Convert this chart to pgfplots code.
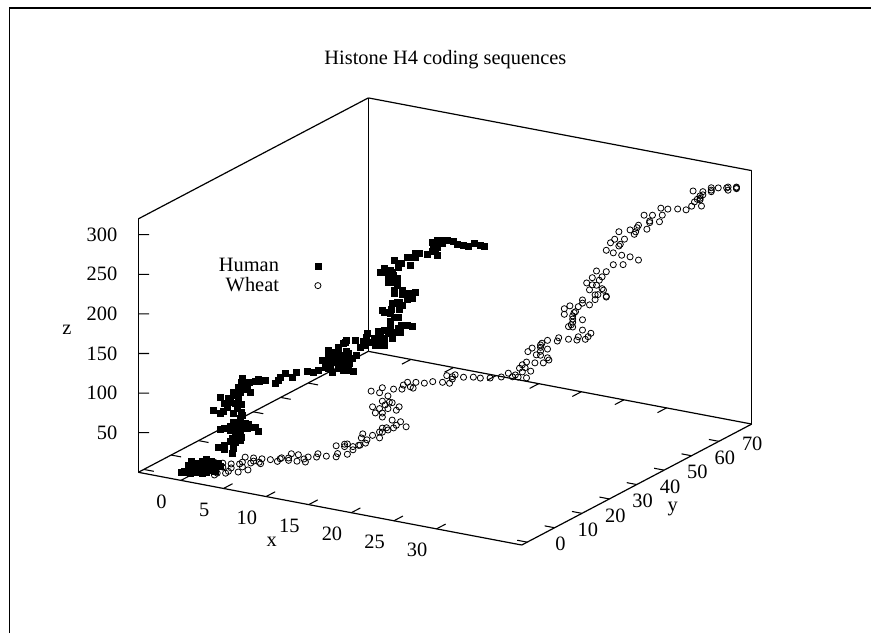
\documentclass[border=0pt]{standalone}
\usepackage{fontspec}
\setmainfont{Liberation Serif}
\usepackage{pgfplots}
\pgfplotsset{compat=1.18}
\begin{document}
\begin{tikzpicture}[x=1pt,y=1pt]
\useasboundingbox (0,0) rectangle (653.25,474.75);
\draw[line width=1.2pt,black] (7,0) -- (7,468.75) -- (653.25,468.75);
\begin{axis}[
  anchor=origin, at={(139.8pt,116.625pt)},
  x={(6.39pt,-1.212pt)}, y={(2.0535pt,1.08pt)}, z={(0pt,0.594pt)},
  xmin=-5,xmax=40,ymin=-2,ymax=82,zmin=0,zmax=320,
  xtick={0,5,...,30}, ytick={0,10,...,70}, ztick={50,100,...,300},
  font=\fontsize{15.3}{18}\selectfont,
  /pgf/number format/assume math mode=true,
  scaled ticks=false,
  axis line style={line width=0.9pt},
  tick style={draw=none},
  xticklabel style={anchor=center,xshift=-14.5pt,yshift=-15.8pt},
  yticklabel style={anchor=center,xshift=25pt,yshift=-1.5pt},
  zticklabel style={anchor=east,xshift=-12.3pt},
  clip=false,
  unbounded coords=jump,
  legend plot pos=right,
  legend cell align=right,
  legend image code/.code={\path (-27pt,0pt) (0pt,0pt); \draw[#1] plot coordinates {(0pt,0pt)};},
  legend style={draw=none,fill=none,at={(axis cs:9.65,0,274.2)},anchor=center,font=\fontsize{15.3}{15.5}\selectfont,row sep=-1pt},
]
% tick marks on the two x edges, the two y edges and the z edge of the box
\addplot3[forget plot,black,line width=0.8pt] coordinates {
(0,-2,0) (0,1.3,0) (nan,nan,nan) (5,-2,0) (5,1.3,0) (nan,nan,nan)
(10,-2,0) (10,1.3,0) (nan,nan,nan) (15,-2,0) (15,1.3,0) (nan,nan,nan)
(20,-2,0) (20,1.3,0) (nan,nan,nan) (25,-2,0) (25,1.3,0) (nan,nan,nan)
(30,-2,0) (30,1.3,0) (nan,nan,nan)
(0,82,0) (0,78.7,0) (nan,nan,nan) (5,82,0) (5,78.7,0) (nan,nan,nan)
(10,82,0) (10,78.7,0) (nan,nan,nan) (15,82,0) (15,78.7,0) (nan,nan,nan)
(20,82,0) (20,78.7,0) (nan,nan,nan) (25,82,0) (25,78.7,0) (nan,nan,nan)
(30,82,0) (30,78.7,0) (nan,nan,nan)
(40,0,0) (38.83,0,0) (nan,nan,nan) (40,10,0) (38.83,10,0) (nan,nan,nan)
(40,20,0) (38.83,20,0) (nan,nan,nan) (40,30,0) (38.83,30,0) (nan,nan,nan)
(40,40,0) (38.83,40,0) (nan,nan,nan) (40,50,0) (38.83,50,0) (nan,nan,nan)
(40,60,0) (38.83,60,0) (nan,nan,nan) (40,70,0) (38.83,70,0) (nan,nan,nan)
(-5,0,0) (-3.83,0,0) (nan,nan,nan) (-5,10,0) (-3.83,10,0) (nan,nan,nan)
(-5,20,0) (-3.83,20,0) (nan,nan,nan) (-5,30,0) (-3.83,30,0) (nan,nan,nan)
(-5,40,0) (-3.83,40,0) (nan,nan,nan) (-5,50,0) (-3.83,50,0) (nan,nan,nan)
(-5,60,0) (-3.83,60,0) (nan,nan,nan) (-5,70,0) (-3.83,70,0) (nan,nan,nan)
(-5,-2,50) (-4.077,-0.964,50) (nan,nan,nan) (-5,-2,100) (-4.077,-0.964,100) (nan,nan,nan)
(-5,-2,150) (-4.077,-0.964,150) (nan,nan,nan) (-5,-2,200) (-4.077,-0.964,200) (nan,nan,nan)
(-5,-2,250) (-4.077,-0.964,250) (nan,nan,nan) (-5,-2,300) (-4.077,-0.964,300)
};
\addplot3[only marks,mark=square*,mark size=2.25pt,black] table {
x y z
-0.5 -0.5 7
-0.2 -0.2 8
0.2 0.2 7
0.5 0.5 10
0.3 0.3 6
0.8 0.8 7
1.1 1.1 8
1.4 1.4 6
1.8 1.8 7
2.2 2.2 10
1.7 1.7 12
1.2 1.2 12
0.7 0.7 13
0.2 0.2 15
0.4 0.4 21
1.4 1.4 21
1.8 1.8 23
2.2 2.2 21
2.4 2.4 19
2.8 2.8 18
3.0 3.0 15
2.6 2.6 13
2.3 2.3 15
1.9 1.9 16
1.6 1.6 18
1.1 1.1 16
0.8 0.8 18
2.0 2.0 11
2.6 2.6 9
2.8 2.8 39
3.4 3.4 36
4.1 4.1 32
4.2 4.2 38
4.3 4.3 45
4.6 4.6 48
3.9 3.9 46
4.8 4.8 57
4.9 4.9 52
5.2 5.2 64
4.3 4.3 57
4.1 4.1 51
3.0 3.0 62
3.4 3.4 63
3.9 3.9 61
4.3 4.3 63
4.8 4.8 65
5.2 5.2 70
5.7 5.7 65
6.1 6.1 65
6.4 6.4 60
5.4 5.4 63
4.6 4.6 70
4.2 4.2 71
4.8 4.8 76
4.2 4.2 82
4.9 4.9 84
4.5 4.5 89
3.3 3.3 84
2.4 2.4 86
3.0 3.0 82
3.6 3.6 89
4.3 4.3 95
4.9 4.9 93
3.4 3.4 95
3.9 3.9 96
3.0 3.0 102
3.7 3.7 101
4.2 4.2 105
4.8 4.8 109
4.6 4.6 115
4.9 4.9 121
5.4 5.4 118
5.7 5.7 109
5.2 5.2 114
5.4 5.4 122
6.1 6.1 123
6.5 6.5 123
7.0 7.0 124
7.9 7.9 121
8.2 8.2 124
4.2 4.2 109
5.3 5.3 112
6.4 6.4 126
8.3 8.3 129
8.8 8.8 134
9.4 9.4 129
9.8 9.8 135
10.7 10.7 136
11.3 11.3 136
11.7 11.7 138
12.1 12.1 151
12.6 12.6 155
12.6 12.6 164
13.0 13.0 161
13.5 13.5 167
13.9 13.9 173
14.2 14.2 176
12.5 12.5 147
12.9 12.9 151
13.4 13.4 155
13.9 13.9 158
14.2 14.2 162
12.8 12.8 143
13.2 13.2 149
13.5 13.5 141
13.0 13.0 136
13.9 13.9 139
14.4 14.4 138
14.8 14.8 137
13.6 13.6 148
14.1 14.1 152
14.7 14.7 154
15.1 15.1 158
14.4 14.4 160
13.2 13.2 160
15.0 15.0 176
14.1 14.1 174
15.7 15.7 175
16.1 16.1 186
16.0 16.0 180
16.5 16.5 175
17.0 17.0 171
16.7 16.7 180
17.0 17.0 188
17.4 17.4 175
17.2 17.2 181
17.6 17.6 180
17.9 17.9 186
18.1 18.1 193
18.5 18.5 188
18.8 18.8 193
19.1 19.1 197
19.6 19.6 196
20.1 20.1 195
18.5 18.5 206
18.1 18.1 201
18.8 18.8 207
18.1 18.1 212
17.4 17.4 215
17.6 17.6 212
18.2 18.2 216
18.9 18.9 216
19.2 19.2 222
18.7 18.7 225
18.9 18.9 226
19.6 19.6 229
20.1 20.1 231
20.3 20.3 238
19.8 19.8 237
19.2 19.2 235
19.2 19.2 241
18.5 18.5 237
18.5 18.5 241
17.9 17.9 251
18.3 18.3 251
18.7 18.7 256
17.9 17.9 257
17.2 17.2 263
17.6 17.6 263
18.1 18.1 266
18.8 18.8 269
18.5 18.5 278
19.1 19.1 275
19.9 19.9 273
19.6 19.6 282
20.1 20.1 283
20.3 20.3 288
20.7 20.7 288
20.3 20.3 282
21.4 21.4 286
22.3 22.3 285
22.1 22.1 292
21.8 21.8 290
21.8 21.8 302
21.9 21.9 298
22.3 22.3 296
22.7 22.7 301
22.3 22.3 305
22.8 22.8 304
23.2 23.2 305
23.7 23.7 304
24.1 24.1 300
24.6 24.6 299
25.0 25.0 298
25.6 25.6 302
26.1 26.1 299
26.5 26.5 298
12.3 12.3 142
13.6 13.6 154
14.1 14.1 145
14.5 14.5 147
12.6 12.6 141
13.5 13.5 161.5
15.9 15.9 171
16.3 16.3 175
16.8 16.8 171
17.2 17.2 174
17.6 17.6 171
15.4 15.4 168
18.3 18.3 224
18.7 18.7 247
17.6 17.6 268.5
18.3 18.3 263.5
18.4 18.4 260
19.0 19.0 187
18.3 18.3 180
17.6 17.6 190
17.0 17.0 175
3.4 3.4 42
4.8 4.8 48
4.6 4.6 55
5.5 5.5 69
3.9 3.9 65
5.0 5.0 80
4.6 4.6 101
5.0 5.0 127
5.6 5.6 121
};
\addlegendentry{Human}
\addplot3[only marks,mark=o,mark size=2.3pt,mark options={line width=0.6pt},black] table {
x y z
0.6 1.2 8
1.3 2.6 12
2.0 4.0 16
2.6 5.2 14
3.2 6.4 12
4.2 8.4 19
4.8 9.6 17
5.4 10.8 15
6.0 12.0 13
6.7 13.4 13
7.5 15.0 18
8.0 16.0 16
8.7 17.4 12
9.4 18.8 15
10.0 20.0 11
10.7 21.4 23
11.3 22.6 21
11.5 23.0 24
10.8 21.6 13
11.5 23.0 11
10.7 21.4 9
9.3 18.6 11
8.5 17.0 6
8.4 16.8 10
7.9 15.8 8
7.3 14.6 10
6.8 13.6 14
6.5 13.0 10
5.3 10.6 9
5.2 10.4 11
4.6 9.2 11
4.8 9.6 13
3.8 7.6 11
4.0 8.0 13
3.7 7.4 1
3.2 6.4 7
3.0 6.0 3
2.8 5.6 1
2.2 4.4 2
2.0 4.0 0
2.6 5.2 9
11.9 23.8 16
12.3 24.6 21
11.3 22.6 24
11.9 23.8 20
12.5 25.0 30
12.6 25.2 35
12.8 25.6 23
13.3 26.6 32
13.8 27.6 28
14.0 28.0 35
14.0 28.0 40
14.3 28.6 40
14.8 29.6 39
15.3 30.6 46
15.7 31.4 39
15.0 30.0 42
14.7 29.4 49
14.0 28.0 54
13.5 27.0 60
13.8 27.6 65
13.3 26.6 68
14.4 28.8 64
15.0 30.0 61
15.2 30.4 65
14.7 29.4 71
14.5 29.0 72
14.0 28.0 74
14.4 28.8 80
13.8 27.6 85
13.2 26.4 88
14.0 28.0 91
14.8 29.6 88
15.4 30.8 87
15.5 31.0 92
15.8 31.6 95
16.2 32.4 87
16.4 32.8 94
17.0 34.0 92
17.6 35.2 93
18.3 36.6 91
18.8 37.6 89
19.0 38.0 94
18.6 37.2 99
19.2 38.4 99
19.8 39.6 95
20.5 41.0 94
21.0 42.0 92
21.7 43.4 91
22.5 45.0 91
23.0 46.0 95
23.3 46.6 90
23.7 47.4 89
23.8 47.6 100
24.0 48.0 104
24.3 48.6 107
24.3 48.6 87
24.6 49.2 95
24.9 49.8 105
25.5 51.0 104
25.8 51.6 110
25.9 51.8 107
24.4 48.8 120
24.7 49.4 124
25.0 50.0 115
25.3 50.6 114
25.3 50.6 124
25.4 50.8 129
25.8 51.6 132
25.8 51.6 121
26.5 53.0 130
26.6 53.2 134
27.3 54.6 131
27.9 55.8 129
28.0 56.0 133
28.5 57.0 129
28.7 57.4 132
28.9 57.8 136
28.3 56.6 141
28.3 56.6 154
27.3 54.6 147
27.6 55.2 146
27.6 55.2 152
27.6 55.2 160
27.8 55.6 165
27.0 54.0 163
27.0 54.0 170
27.4 54.8 173
28.0 56.0 171
28.3 56.6 179
28.3 56.6 175
28.8 57.6 172
29.2 58.4 178
29.4 58.8 184
29.8 59.6 189
30.0 60.0 180
29.0 58.0 197
28.6 57.2 200
29.5 59.0 202
29.0 58.0 206
29.3 58.6 214
29.7 59.4 206
30.0 60.0 212
30.5 61.0 220
31.2 62.4 219
31.7 63.4 228
31.1 62.2 231
32.3 64.6 223
29.2 58.4 184
29.7 59.4 191
30.0 60.0 181
30.0 60.0 239
30.5 61.0 235
30.3 60.6 248
30.6 61.2 252
30.9 61.8 243
30.9 61.8 261
31.3 62.6 251
31.7 63.4 262
32.0 64.0 256
32.3 64.6 267
32.2 64.4 264
32.9 65.8 261
33.1 66.2 269
32.7 65.4 279
33.3 66.6 278
33.8 67.6 269
34.0 68.0 277
33.9 67.8 286
34.4 68.8 284
35.1 70.2 283
35.7 71.4 281
36.1 72.2 285
36.8 73.6 284
36.3 72.6 290
36.7 73.4 297
36.2 72.4 304
36.9 73.8 302
37.5 75.0 303
38.0 76.0 305
38.7 77.4 305
38.7 77.4 301
39.3 78.6 304
39.3 78.6 302
36.7 73.4 292
39.3 78.6 303
38.6 77.2 304
37.5 75.0 301
37.5 75.0 306
36.7 73.4 294
36.9 73.8 298
36.5 73.0 293
27.6 55.2 156
27.5 55.0 149
27.7 55.4 164
25.3 50.6 119
25.3 50.6 127
24.2 48.4 100
24.0 48.0 95
23.5 47.0 92
32.1 64.2 259
33.1 66.2 271
31.0 62.0 245
14.0 28.0 59
14.2 28.4 69
14.4 28.8 37
13.8 27.6 35.5
12.9 25.8 27
16.0 32.0 89
19.0 38.0 97
12.4 24.8 21
7.3 14.6 13
4.0 8.0 7
4.4 8.8 2.5
28.8 57.6 191
29.3 58.6 196
};
\addlegendentry{Wheat}
\node[anchor=center] at (axis cs:10,0,-61) {x};
\node[anchor=center] at (axis cs:35,68.7,-93.4) {y};
\node[anchor=center] at (axis cs:-13.37,-2,162.9) {z};
\node[anchor=center] at (axis cs:0,94.6,355.5) {Histone H4 coding sequences};
\end{axis}
\end{tikzpicture}
\end{document}
